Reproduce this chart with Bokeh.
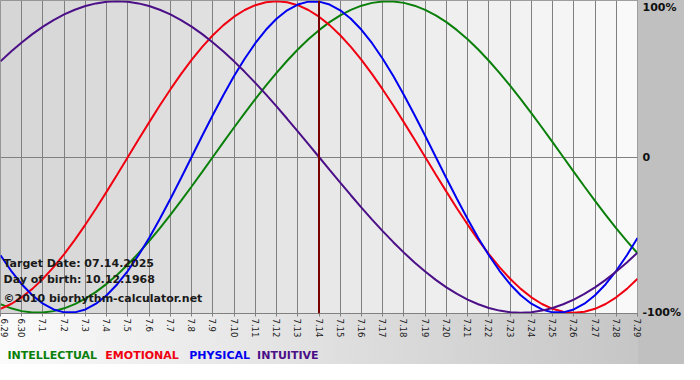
from bokeh.plotting import figure
from bokeh.layouts import column
from bokeh.models import Range1d, FixedTicker, Label, Span, ColumnDataSource
from bokeh.core.properties import value
from bokeh.embed import file_html
from bokeh.resources import INLINE
import math

# ---- data ----
day_labels = ["6.29", "6.30", "7.1", "7.2", "7.3", "7.4", "7.5", "7.6", "7.7", "7.8",
              "7.9", "7.10", "7.11", "7.12", "7.13", "7.14", "7.15", "7.16", "7.17", "7.18",
              "7.19", "7.20", "7.21", "7.22", "7.23", "7.24", "7.25", "7.26", "7.27", "7.28", "7.29"]
target_label = "7.14"
target_date = "07.14.2025"
birth_date = "10.12.1968"

# values every half day, from 6.29 to 7.29
physical = [-0.6311, -0.7308, -0.8170, -0.8879, -0.9423, -0.9791, -0.9977, -0.9977, -0.9791, -0.9423,
            -0.8879, -0.8170, -0.7308, -0.6311, -0.5196, -0.3984, -0.2698, -0.1362, 0.0, 0.1362,
            0.2698, 0.3984, 0.5196, 0.6311, 0.7308, 0.8170, 0.8879, 0.9423, 0.9791, 0.9977,
            0.9977, 0.9791, 0.9423, 0.8879, 0.8170, 0.7308, 0.6311, 0.5196, 0.3984, 0.2698,
            0.1362, 0.0, -0.1362, -0.2698, -0.3984, -0.5196, -0.6311, -0.7308, -0.8170, -0.8879,
            -0.9423, -0.9791, -0.9977, -0.9977, -0.9791, -0.9423, -0.8879, -0.8170, -0.7308, -0.6311,
            -0.5196]
emotional = [-0.9749, -0.9439, -0.9010, -0.8467, -0.7818, -0.7071, -0.6235, -0.5320, -0.4339, -0.3303,
             -0.2225, -0.1120, 0.0, 0.1120, 0.2225, 0.3303, 0.4339, 0.5320, 0.6235, 0.7071,
             0.7818, 0.8467, 0.9010, 0.9439, 0.9749, 0.9937, 1.0, 0.9937, 0.9749, 0.9439,
             0.9010, 0.8467, 0.7818, 0.7071, 0.6235, 0.5320, 0.4339, 0.3303, 0.2225, 0.1120,
             0.0, -0.1120, -0.2225, -0.3303, -0.4339, -0.5320, -0.6235, -0.7071, -0.7818, -0.8467,
             -0.9010, -0.9439, -0.9749, -0.9937, -1.0, -0.9937, -0.9749, -0.9439, -0.9010, -0.8467,
             -0.7818]
intellectual = [-0.9450, -0.9718, -0.9898, -0.9989, -0.9989, -0.9898, -0.9718, -0.9450, -0.9096, -0.8660,
                -0.8146, -0.7557, -0.6901, -0.6182, -0.5406, -0.4582, -0.3717, -0.2817, -0.1893, -0.0951,
                0.0, 0.0951, 0.1893, 0.2817, 0.3717, 0.4582, 0.5406, 0.6182, 0.6901, 0.7557,
                0.8146, 0.8660, 0.9096, 0.9450, 0.9718, 0.9898, 0.9989, 0.9989, 0.9898, 0.9718,
                0.9450, 0.9096, 0.8660, 0.8146, 0.7557, 0.6901, 0.6182, 0.5406, 0.4582, 0.3717,
                0.2817, 0.1893, 0.0951, 0.0, -0.0951, -0.1893, -0.2817, -0.3717, -0.4582, -0.5406,
                -0.6182]
intuitive = [0.6142, 0.6773, 0.7357, 0.7891, 0.8372, 0.8795, 0.9158, 0.9458, 0.9694, 0.9864,
             0.9966, 1.0, 0.9966, 0.9864, 0.9694, 0.9458, 0.9158, 0.8795, 0.8372, 0.7891,
             0.7357, 0.6773, 0.6142, 0.5469, 0.4759, 0.4017, 0.3247, 0.2455, 0.1646, 0.0826,
             0.0, -0.0826, -0.1646, -0.2455, -0.3247, -0.4017, -0.4759, -0.5469, -0.6142, -0.6773,
             -0.7357, -0.7891, -0.8372, -0.8795, -0.9158, -0.9458, -0.9694, -0.9864, -0.9966, -1.0,
             -0.9966, -0.9864, -0.9694, -0.9458, -0.9158, -0.8795, -0.8372, -0.7891, -0.7357, -0.6773,
             -0.6142]

series_names = ["INTELLECTUAL", "EMOTIONAL", "PHYSICAL", "INTUITIVE"]
series_values = [intellectual, emotional, physical, intuitive]
series_colors = ["#0a800a", "#f00010", "#0000f0", "#4b0f87"]

days = list(range(len(day_labels)))
half_days = [i / 2 for i in range(len(physical))]
target_idx = day_labels.index(target_label)

W = 684
H_MAIN, H_LEG = 340, 24
RB, BB = 46, 23
FONT = "DejaVu Sans"
fw = W - RB
BG_CSS = (f"linear-gradient(to right, rgba(192,192,192,0) 0px, rgba(192,192,192,0) {fw}px, "
          f"#c0c0c0 {fw}px), linear-gradient(to right, #fbfbfb 0%, #c6c6c6 93%)")

p = figure(width=W, height=H_MAIN,
           x_range=Range1d(days[0], days[-1]), y_range=Range1d(-1.005, 1.005),
           output_backend="svg", toolbar_location=None, y_axis_location="right",
           min_border_left=0, min_border_top=0, min_border_right=RB, min_border_bottom=BB,
           border_fill_color=None, background_fill_color="#e6e6e6",
           outline_line_color="#808080")
p.styles = {"background": BG_CSS}

# stepped background columns
n = len(days) - 1
cols = []
for i in range(n):
    c = int(0xd6 + (0xf9 - 0xd6) * i / (n - 1))
    cols.append("#%02x%02x%02x" % (c, c, c))
bg = ColumnDataSource(dict(left=days[:-1], right=days[1:], color=cols))
r = p.quad(left="left", right="right", bottom=-1.005, top=1.005, fill_color="color",
           line_color=None, source=bg)
r.level = "image"

# grids
p.xgrid.ticker = FixedTicker(ticks=days)
p.xgrid.grid_line_color = "#808080"
p.xgrid.grid_line_width = 1
p.ygrid.ticker = FixedTicker(ticks=[0])
p.ygrid.grid_line_color = "#808080"

# x axis
p.xaxis.ticker = FixedTicker(ticks=days)
p.xaxis.major_label_overrides = {d: lab for d, lab in zip(days, day_labels)}
p.xaxis.major_label_orientation = -math.pi / 2
p.xaxis.major_label_text_font = FONT
p.xaxis.major_label_text_font_size = "8.5px"
p.xaxis.major_label_text_color = "#202020"
p.xaxis.major_label_standoff = 2
p.xaxis.major_tick_out = 3
p.xaxis.major_tick_in = 0
p.xaxis.major_tick_line_color = "#808080"
p.xaxis.minor_tick_line_color = None
p.xaxis.axis_line_color = "#808080"

# y axis (right)
TOP_LABEL_POS = 0.962
p.yaxis.ticker = FixedTicker(ticks=[-1, 0, TOP_LABEL_POS])
p.yaxis.major_label_overrides = {-1: "-100%", 0: "0", TOP_LABEL_POS: "100%"}
p.yaxis.major_label_text_font = FONT
p.yaxis.major_label_text_font_style = "bold"
p.yaxis.major_label_text_font_size = "11px"
p.yaxis.major_label_text_color = "#101010"
p.yaxis.major_label_standoff = 5
p.yaxis.major_tick_out = 0
p.yaxis.major_tick_in = 0
p.yaxis.minor_tick_out = 0
p.yaxis.minor_tick_in = 0
p.yaxis.major_tick_line_color = None
p.yaxis.minor_tick_line_color = None
p.yaxis.axis_line_color = None

# curves
for vals, col in zip(series_values, series_colors):
    p.line(half_days, vals, line_color=col, line_width=2)

p.add_layout(Span(location=target_idx, dimension="height", line_color="#7a0000", line_width=2))

# info text
info = [("Target Date: " + target_date, -0.685),
        ("Day of birth: " + birth_date, -0.785),
        ("\u00a92010 biorhythm-calculator.net", -0.91)]
for txt, yy in info:
    p.add_layout(Label(x=days[0], y=yy, x_offset=3, text=txt, text_font=FONT,
                       text_font_style="bold", text_font_size="11px", text_color="#1a1a1a",
                       text_baseline="middle", text_align="left"))

# legend strip (frame is aligned with the main chart's frame by the column layout)
leg = figure(width=W, height=H_LEG, x_range=p.x_range, y_range=Range1d(0, 1),
             output_backend="svg", toolbar_location=None, x_axis_type=None, y_axis_type=None,
             min_border_left=0, min_border_top=0, min_border_bottom=0, min_border_right=RB,
             border_fill_color=None, background_fill_color=None,
             outline_line_color=None)
leg.styles = {"background": BG_CSS}
leg.grid.visible = False
leg_px = [7, 105, 189, 257]
leg_x = [px * (days[-1] - days[0]) / fw for px in leg_px]
leg_src = ColumnDataSource(dict(x=leg_x, y=[0.36] * len(series_names), text=series_names,
                                color=series_colors))
leg.text(x="x", y="y", text="text", text_color="color", source=leg_src,
         text_font=value(FONT), text_font_style="bold", text_font_size="11px",
         text_baseline="middle", text_align="left")

layout = column(p, leg, spacing=0)
open("out.html", "w").write(file_html(layout, INLINE))
